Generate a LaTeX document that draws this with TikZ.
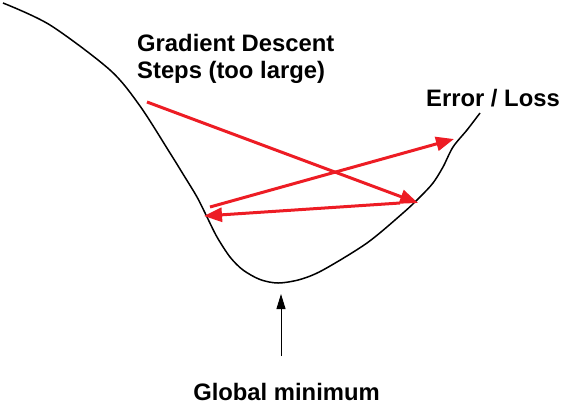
\documentclass[tikz,border=0pt]{standalone}
\usepackage{fontspec}
\setmainfont{Liberation Sans}
\usetikzlibrary{arrows.meta}
\definecolor{stepred}{RGB}{237,28,36}
\tikzset{
  lbl/.style={font=\bfseries\fontsize{23.8}{27.5}\selectfont, inner sep=0pt},
  bigstep/.style={draw=stepred, line width=3pt, -{Triangle[length=18pt,width=14pt]}},
  pointer/.style={draw, line width=1pt, -{Triangle[length=15pt,width=9pt]}}
}
\begin{document}
\begin{tikzpicture}[x=1pt,y=-1pt]
    \useasboundingbox (0,0) rectangle (569,413);
    % error curve
    \draw[line width=1.5pt] plot[smooth, tension=0.5] coordinates {
      (3,3) (50,25) (110,70) (140,106) (170,153) (183,174) (197,197)
      (207,217) (217,237) (230,257) (243,270) (260,279.5) (278,283)
      (300,279.5) (323,270) (367,243) (403,213) (420,197) (433,183)
      (443,167) (453,147) (467,130) (480,113)};
    % labels
    \node[lbl, anchor=north west, align=left] (gd) at (137,34) {Gradient Descent\\Steps (too large)};
    \node[lbl, anchor=base west] (loss) at (426,106) {Error / Loss};
    \node[lbl, anchor=base] (gmin) at (286.5,400) {Global minimum};
    % step end points
    \coordinate (s0) at (147,102);
    \coordinate (s1) at (418,203);
    \coordinate (s1b) at (210,207);
    \coordinate (s2) at (454,139);
    \coordinate (s2b) at (400,203);
    \coordinate (s3) at (204,216);
    \draw[bigstep] (s0) -- (s1);
    \draw[bigstep] (s1b) -- (s2);
    \draw[bigstep] (s2b) -- (s3);
    % pointer to the minimum
    \coordinate (mintail) at (281,356);
    \coordinate (mintip) at (281,294);
    \draw[pointer] (mintail) -- (mintip);
\end{tikzpicture}
\end{document}
